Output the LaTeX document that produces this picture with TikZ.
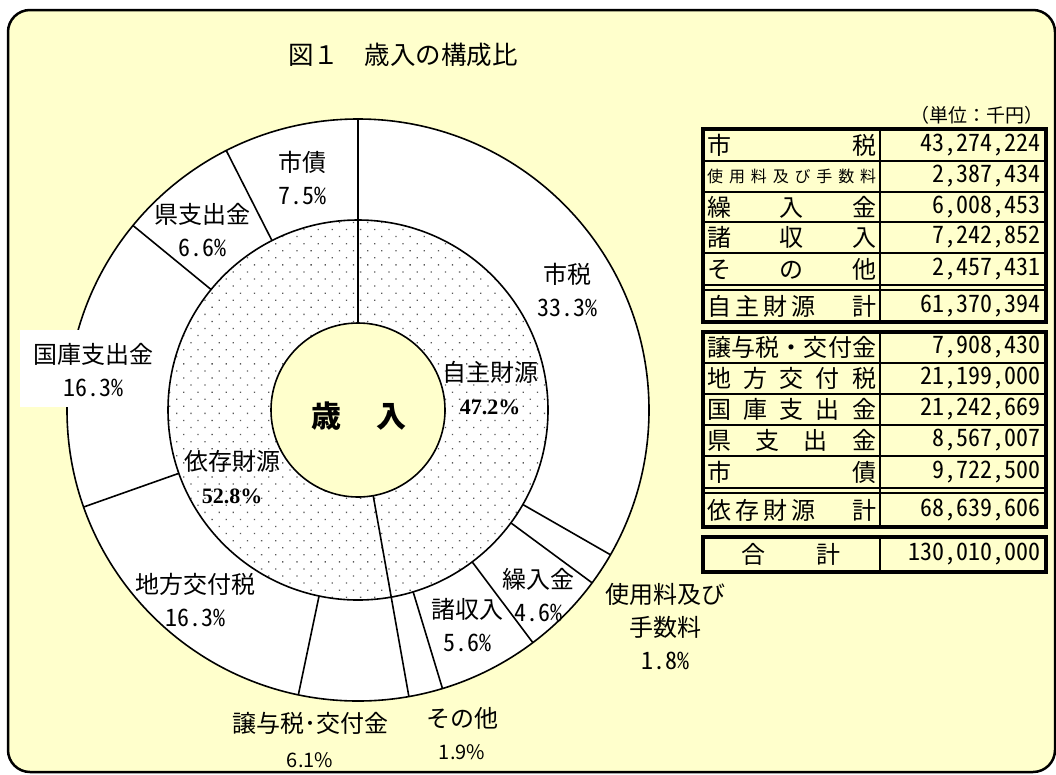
\documentclass[tikz,border=0pt]{standalone}
\usepackage{fontspec}
\usetikzlibrary{patterns.meta}
\newfontfamily\jpfont[RawFeature=+hwid]{Noto Sans CJK JP}
\newfontfamily\jppro{Noto Sans CJK JP}
\newfontfamily\numserif{Liberation Serif}
\definecolor{paleyel}{HTML}{FFFFCC}
\tikzset{
  chartline/.style={line width=1.6pt},
  piecelbl/.style={font=\jpfont\fontsize{24}{33}\selectfont, align=center, inner sep=0pt},
  tabname/.style={font=\jpfont\fontsize{24}{24}\selectfont, anchor=west, inner sep=0pt},
  tabnum/.style={font=\jpfont\fontsize{24}{24}\selectfont, anchor=east, inner sep=0pt},
  tabframe/.style={line width=3.5pt},
  tabrule/.style={line width=1.5pt}
}

\begin{document}
\begin{tikzpicture}[x=1pt,y=-1pt]
  \useasboundingbox (0,0) rectangle (1056,774);
  \filldraw[fill=paleyel, line width=2.5pt, rounded corners=22pt] (8,10) rectangle (1055,772);
  \node[font=\jppro\fontsize{25.5}{25.5}\selectfont] (title) at (403,55) {図１　歳入の構成比};

  \begin{scope}[shift={(358,410)}]
    \filldraw[fill=white, chartline] (0,0) circle (291);
    \fill[white] (0,0) circle (190);
    \fill[pattern={Dots[distance=10pt, angle=45, radius=0.9pt]}, pattern color=black!65] (0,0) circle (190);
    \draw[chartline] (0,0) circle (190);
    \filldraw[fill=paleyel, chartline] (0,0) circle (87);
    \draw[chartline] (-90:87) -- (-90:291);
    \draw[chartline] (79.93:87) -- (79.93:291);
    \draw[chartline] (29.83:190) -- (29.83:291);
    \draw[chartline] (36.44:190) -- (36.44:291);
    \draw[chartline] (53.07:190) -- (53.07:291);
    \draw[chartline] (73.13:190) -- (73.13:291);
    \draw[chartline] (101.83:190) -- (101.83:291);
    \draw[chartline] (160.53:190) -- (160.53:291);
    \draw[chartline] (219.35:190) -- (219.35:291);
    \draw[chartline] (243.08:190) -- (243.08:291);
  \end{scope}
  \fill[white] (20,330) rectangle (162,407);

  \node[font=\jpfont\bfseries\fontsize{30}{30}\selectfont] (sainyu) at (359,416) {歳\hspace{35pt}入};
  \node[piecelbl] (shisai) at (302,178) {市債\\7.5\%};
  \node[piecelbl] (ken) at (202,230) {県支出金\\6.6\%};
  \node[piecelbl] (kokko) at (93,370) {国庫支出金\\16.3\%};
  \node[piecelbl] (shizei) at (567,290) {市税\\33.3\%};
  \node[piecelbl] (jishu) at (490,388) {自主財源\\{\numserif\bfseries\fontsize{22}{22}\selectfont 47.2\%}};
  \node[piecelbl] (izon) at (232,477) {依存財源\\{\numserif\bfseries\fontsize{22}{22}\selectfont 52.8\%}};
  \node[piecelbl] (chiho) at (195,600) {地方交付税\\16.3\%};
  \node[piecelbl, font=\jpfont\fontsize{24}{35}\selectfont] (joyo) at (310,740) {譲与税･交付金\\{\jppro\fontsize{20}{20}\selectfont 6.1\%}};
  \node[piecelbl, font=\jpfont\fontsize{24}{32}\selectfont] (sonota) at (462,734) {その他\\{\jppro\fontsize{20}{20}\selectfont 1.9\%}};
  \node[piecelbl] (shoshu) at (467,625) {諸収入\\5.6\%};
  \node[piecelbl] (kuri) at (538,595) {繰入金\\4.6\%};
  \node[piecelbl] (shiyo) at (665,627) {使用料及び\\手数料\\1.8\%};

  \node[font=\jppro\fontsize{19}{19}\selectfont, anchor=east, inner sep=0pt] (unit) at (1044,115) {（単位：千円）};

  \draw[tabrule] (703,161) -- (1046,161);
  \draw[tabrule] (703,192) -- (1046,192);
  \draw[tabrule] (703,222) -- (1046,222);
  \draw[tabrule] (703,253) -- (1046,253);
  \draw[line width=2.5pt] (703,285) -- (1046,285);
  \draw[tabrule] (703,290) -- (1046,290);
  \draw[line width=2.5pt] (880,129) -- (880,322);
  \draw[tabframe] (703,129) rectangle (1046,322);

  \draw[tabrule] (703,363) -- (1046,363);
  \draw[tabrule] (703,394) -- (1046,394);
  \draw[tabrule] (703,425) -- (1046,425);
  \draw[tabrule] (703,456) -- (1046,456);
  \draw[line width=2.5pt] (703,488) -- (1046,488);
  \draw[tabrule] (703,493) -- (1046,493);
  \draw[line width=2.5pt] (880,332) -- (880,527);
  \draw[tabframe] (703,332) rectangle (1046,527);

  \draw[line width=2.5pt] (880,537) -- (880,572);
  \draw[tabframe] (703,537) rectangle (1046,572);

  \node[tabname] (lab1) at (707,145) {\makebox[169pt][l]{市\hfill 税}};
  \node[tabname, font=\jpfont\fontsize{16}{16}\selectfont] (lab2) at (707,176.5) {\makebox[169pt][l]{使\hfill 用\hfill 料\hfill 及\hfill び\hfill 手\hfill 数\hfill 料}};
  \node[tabname] (lab3) at (707,207) {\makebox[169pt][l]{繰\hfill 入\hfill 金}};
  \node[tabname] (lab4) at (707,237.5) {\makebox[169pt][l]{諸\hfill 収\hfill 入}};
  \node[tabname] (lab5) at (707,269) {\makebox[169pt][l]{そ\hfill の\hfill 他}};
  \node[tabname] (lab6) at (707,306) {\makebox[169pt][l]{自\hspace{4pt}主\hspace{4pt}財\hspace{4pt}源\hfill 計}};
  \node[tabname] (lab7) at (707,347.5) {\makebox[169pt][l]{譲\hfill 与\hfill 税\hfill ・\hfill 交\hfill 付\hfill 金}};
  \node[tabname] (lab8) at (707,378.5) {\makebox[169pt][l]{地\hfill 方\hfill 交\hfill 付\hfill 税}};
  \node[tabname] (lab9) at (707,409.5) {\makebox[169pt][l]{国\hfill 庫\hfill 支\hfill 出\hfill 金}};
  \node[tabname] (lab10) at (707,440.5) {\makebox[169pt][l]{県\hfill 支\hfill 出\hfill 金}};
  \node[tabname] (lab11) at (707,472) {\makebox[169pt][l]{市\hfill 債}};
  \node[tabname] (lab12) at (707,510) {\makebox[169pt][l]{依\hspace{4pt}存\hspace{4pt}財\hspace{4pt}源\hfill 計}};
  \node[tabname, anchor=center] (lab13) at (791,554.5) {合\hspace{52pt}計};

  \node[tabnum] (val1) at (1041,145) {43,274,224};
  \node[tabnum] (val2) at (1041,176.5) {2,387,434};
  \node[tabnum] (val3) at (1041,207) {6,008,453};
  \node[tabnum] (val4) at (1041,237.5) {7,242,852};
  \node[tabnum] (val5) at (1041,269) {2,457,431};
  \node[tabnum] (val6) at (1041,306) {61,370,394};
  \node[tabnum] (val7) at (1041,347.5) {7,908,430};
  \node[tabnum] (val8) at (1041,378.5) {21,199,000};
  \node[tabnum] (val9) at (1041,409.5) {21,242,669};
  \node[tabnum] (val10) at (1041,440.5) {8,567,007};
  \node[tabnum] (val11) at (1041,472) {9,722,500};
  \node[tabnum] (val12) at (1041,510) {68,639,606};
  \node[tabnum] (val13) at (1041,554.5) {130,010,000};
\end{tikzpicture}
\end{document}
